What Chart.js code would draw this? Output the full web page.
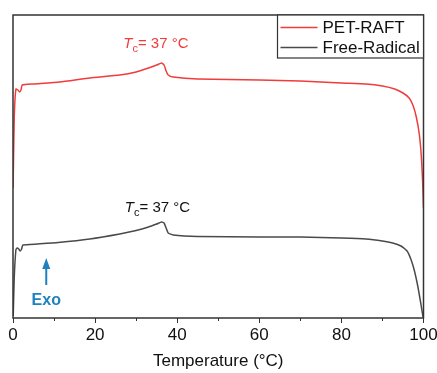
<!DOCTYPE html>
<html>
<head>
<meta charset="utf-8">
<script src="https://cdn.jsdelivr.net/npm/chart.js@4.4.1/dist/chart.umd.min.js"></script>
<style>
  html, body { margin: 0; padding: 0; background: #fff; }
  #wrap { width: 437px; height: 373px; }
</style>
</head>
<body>
<div id="wrap"><canvas id="dsc"></canvas></div>
<script>
// DSC traces (heat flow in arbitrary units)
var seriesNames = ["PET-RAFT", "Free-Radical"];
var seriesColors = ["#f03c3c", "#4a4a4a"];

var tempRaft = [0.02, 0.3, 0.7, 1.2, 1.6, 1.95, 2.25, 5, 11.4, 18.7, 26, 30, 33, 35, 36.2, 36.8, 37.3, 37.8, 39, 45, 60, 70, 80, 86, 90, 93, 95, 96.5, 97.5, 98.3, 99, 99.5, 99.8, 100];
var heatRaft = [130, 200, 229, 228, 226, 228, 233, 234, 236, 240, 243, 246, 250, 253, 255, 253, 247, 243, 241, 239, 238, 237, 235, 234, 232, 229, 225, 220, 212, 200, 183, 160, 135, 110];

var tempFree = [0.05, 0.3, 0.7, 1.0, 1.4, 1.75, 2.1, 2.4, 6, 11, 18.7, 26, 30, 33, 35, 36.2, 36.8, 37.3, 37.8, 39, 45, 60, 70, 80, 86, 90, 92.5, 94.5, 96, 97, 97.8, 98.6, 99.2, 99.6, 99.9];
var heatFree = [2, 40, 68, 70, 69, 67, 69, 73, 74, 75.5, 79, 84, 87.5, 91, 94, 96, 95, 90, 85, 83, 81.5, 81, 81, 80, 79, 77, 75, 72, 67, 58, 47, 32, 18, 8, 1];

var xTicks = [0, 20, 40, 60, 80, 100];
var xMinorTicks = [10, 30, 50, 70, 90];

function pairs(xs, ys) {
  return xs.map(function(x, i) { return { x: x, y: ys[i] }; });
}

var FONT = "'Liberation Sans', Arial, sans-serif";
var frameColor = "#333333";

var overlay = {
  id: 'overlay',
  afterDraw: function(chart) {
    var ctx = chart.ctx, a = chart.chartArea;
    var xs = chart.scales.x, ys = chart.scales.y;
    ctx.save();

    // frame
    ctx.strokeStyle = frameColor;
    ctx.lineWidth = 1.5;
    ctx.strokeRect(a.left, a.top, a.right - a.left, a.bottom - a.top);

    // minor ticks
    ctx.lineWidth = 1;
    xMinorTicks.forEach(function(v) {
      var px = Math.round(xs.getPixelForValue(v)) + 0.5;
      ctx.beginPath();
      ctx.moveTo(px, a.bottom);
      ctx.lineTo(px, a.bottom + 3);
      ctx.stroke();
    });

    // Tc labels
    function tcLabel(tx, vy, color) {
      var cx = xs.getPixelForValue(tx), by = ys.getPixelForValue(vy);
      ctx.fillStyle = color;
      ctx.textBaseline = 'alphabetic';
      ctx.textAlign = 'left';
      var fT = 'italic 15px ' + FONT, fc = '11px ' + FONT, fr = '15px ' + FONT;
      ctx.font = fT; var wT = ctx.measureText('T').width;
      ctx.font = fc; var wc = ctx.measureText('c').width;
      ctx.font = fr; var wr = ctx.measureText('= 37 \u00B0C').width;
      var x0 = cx - (wT + wc + wr) / 2;
      ctx.font = fT; ctx.fillText('T', x0, by);
      ctx.font = fc; ctx.fillText('c', x0 + wT, by + 4);
      ctx.font = fr; ctx.fillText('= 37 \u00B0C', x0 + wT + wc, by);
    }
    tcLabel(34.8, 269.7, seriesColors[0]);
    tcLabel(35.2, 106.3, '#111111');

    // Exo arrow
    var blue = '#1f82bf';
    var ax = xs.getPixelForValue(8.1);
    var aTop = ys.getPixelForValue(60), aBot = ys.getPixelForValue(33);
    ctx.strokeStyle = blue; ctx.fillStyle = blue; ctx.lineWidth = 2;
    ctx.beginPath(); ctx.moveTo(ax, aBot); ctx.lineTo(ax, aTop + 8); ctx.stroke();
    ctx.beginPath(); ctx.moveTo(ax, aTop); ctx.lineTo(ax - 4, aTop + 11); ctx.lineTo(ax + 4, aTop + 11); ctx.closePath(); ctx.fill();
    ctx.font = 'bold 16px ' + FONT;
    ctx.textAlign = 'center';
    ctx.fillText('Exo', ax, ys.getPixelForValue(13));

    // legend box
    var bw = 146, bh = 43;
    var bx = a.right - bw, by0 = a.top;
    ctx.fillStyle = '#fff';
    ctx.fillRect(bx, by0, bw, bh);
    ctx.strokeStyle = frameColor; ctx.lineWidth = 1.2;
    ctx.strokeRect(bx, by0, bw, bh);
    ctx.font = '17px ' + FONT;
    ctx.textAlign = 'left';
    ctx.textBaseline = 'middle';
    chart.data.datasets.forEach(function(ds, i) {
      var ly = by0 + 12.5 + i * 20;
      ctx.strokeStyle = ds.borderColor; ctx.lineWidth = 1.5;
      ctx.beginPath(); ctx.moveTo(bx + 3, ly); ctx.lineTo(bx + 40, ly); ctx.stroke();
      ctx.fillStyle = '#111';
      ctx.fillText(ds.label, bx + 45, ly + 1);
    });
    ctx.restore();
  }
};

new Chart(document.getElementById('dsc'), {
  type: 'scatter',
  data: {
    datasets: [
      { label: seriesNames[0], data: pairs(tempRaft, heatRaft), borderColor: seriesColors[0] },
      { label: seriesNames[1], data: pairs(tempFree, heatFree), borderColor: seriesColors[1] }
    ]
  },
  options: {
    responsive: true,
    maintainAspectRatio: false,
    animation: false,
    showLine: true,
    elements: {
      point: { radius: 0 },
      line: { borderWidth: 1.5, tension: 0.15 }
    },
    layout: { padding: { top: 15, left: 13, right: 0, bottom: 0 } },
    plugins: { legend: { display: false }, tooltip: { enabled: false } },
    scales: {
      x: {
        type: 'linear', min: 0, max: 100,
        afterBuildTicks: function(s) { s.ticks = xTicks.map(function(v) { return { value: v }; }); },
        afterFit: function(s) { s.height = 55; s.paddingLeft = 0; s.paddingRight = 13.5; },
        border: { display: false },
        grid: { drawOnChartArea: false, tickLength: 5, tickColor: frameColor, tickWidth: 1 },
        ticks: { color: '#111', font: { family: FONT, size: 17 }, padding: 2, maxRotation: 0 },
        title: { display: true, text: 'Temperature (\u00B0C)', color: '#111', font: { family: FONT, size: 17 }, padding: { top: 0, bottom: 1 } }
      },
      y: { display: false, min: 0, max: 303 }
    }
  },
  plugins: [overlay]
});
</script>
</body>
</html>
